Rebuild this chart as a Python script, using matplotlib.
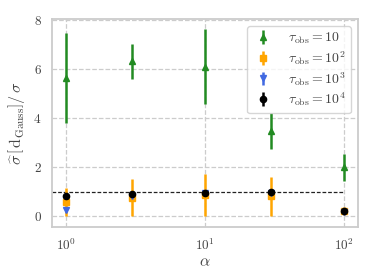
import numpy as np
import matplotlib
matplotlib.use("Agg")
import matplotlib.pyplot as plt
import seaborn as sns

alpha = [1, 3, 10, 30, 100]

tau_labels = [r"$\tau_{\rm obs} = 10$", r"$\tau_{\rm obs} = 10^2$",
              r"$\tau_{\rm obs} = 10^3$", r"$\tau_{\rm obs} = 10^4$"]

# estimated ratio and error per tau_obs
ratio_t1 = [5.65, 6.32, 6.1, 3.48, 2.0]
err_t1 = [1.85, 0.72, 1.54, 0.72, 0.55]
ratio_t2 = [0.58, 0.75, 0.85, 0.8, 0.2]
err_t2 = [0.57, 0.75, 0.86, 0.8, 0.15]
ratio_t3 = [0.25, 0.8, 0.93, 0.95, 0.18]
err_t3 = [0.08, 0.1, 0.08, 0.08, 0.05]
ratio_t4 = [0.84, 0.92, 0.96, 0.97, 0.22]
err_t4 = [0.05, 0.05, 0.05, 0.05, 0.04]

sns.set_style("whitegrid", {"grid.linestyle": "--", "axes.edgecolor": "#cccccc"})
plt.rcParams["font.family"] = "serif"
plt.rcParams["font.serif"] = ["cmr10", "DejaVu Serif"]
plt.rcParams["mathtext.fontset"] = "cm"
plt.rcParams["axes.formatter.use_mathtext"] = True

fig = plt.figure(figsize=(3.74, 2.8), dpi=100)
ax = fig.add_axes([0.139, 0.189, 0.818, 0.743])

series = [
    (ratio_t1, err_t1, "forestgreen", "^"),
    (ratio_t2, err_t2, "orange", "s"),
    (ratio_t3, err_t3, "royalblue", "v"),
    (ratio_t4, err_t4, "black", "o"),
]
for (vals, errs, col, mk), lab in zip(series, tau_labels):
    ax.errorbar(alpha, vals, yerr=errs, fmt=mk, color=col, ms=4.5,
                elinewidth=1.8, capsize=0, label=lab)

ax.hlines(1, 10 ** -0.1, 100, colors="#222222", linestyles=(0, (3, 1.5)), lw=0.9, zorder=1.5)

ax.set_xscale("log")
ax.set_xlim(10 ** -0.1, 10 ** 2.1)
ax.set_ylim(-0.45, 8.05)
ax.set_yticks([0, 2, 4, 6, 8])
ax.grid(True, which="major", color="#cccccc", linestyle="--", lw=0.9)
ax.tick_params(labelsize=9.5, colors="#444444", pad=4)
for s in ax.spines.values():
    s.set_color("#cccccc")
    s.set_linewidth(1.3)

ax.set_xlabel(r"$\alpha$", fontsize=11.5, color="#444444", labelpad=2)
ax.set_ylabel(r"$\widehat{\sigma}\,\left[\,\mathrm{d}_{\mathrm{Gauss}}\right]/\,\sigma$",
              fontsize=11.5, color="#444444", labelpad=4)

leg = ax.legend(loc="upper right", fontsize=10, frameon=True, handletextpad=1.0,
                borderpad=0.35, labelspacing=0.2, handlelength=1.6)
leg.get_frame().set_edgecolor("#cccccc")
for t in leg.get_texts():
    t.set_color("#444444")

fig.savefig("out.png", dpi=100)
